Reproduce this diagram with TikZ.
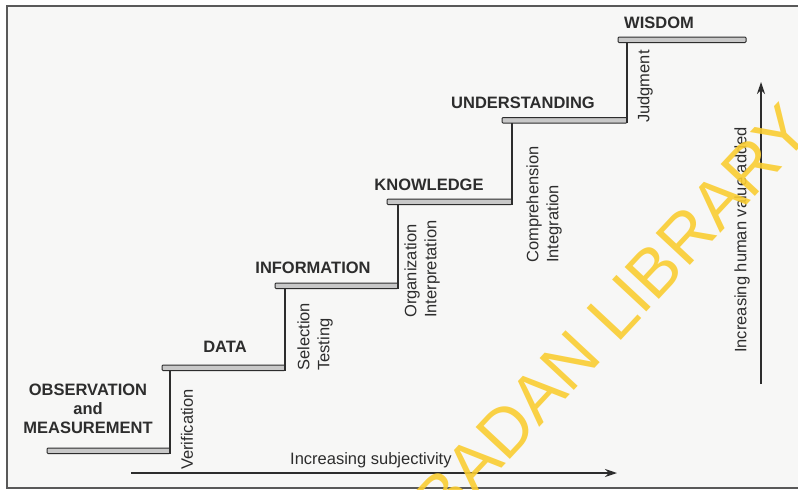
\documentclass[tikz,border=0pt]{standalone}
\usepackage{fontspec}
\setmainfont{Liberation Sans}
\usetikzlibrary{arrows.meta}
\definecolor{ink}{RGB}{45,45,45}
\definecolor{paper}{RGB}{247,247,246}
\definecolor{treadfill}{RGB}{200,200,200}
\definecolor{wm}{RGB}{250,205,50}
\begin{document}
\begin{tikzpicture}[x=1pt,y=-1pt,
  tread/.style={draw=ink, fill=treadfill, line width=1pt, rounded corners=1pt,
    minimum height=5.5pt, inner sep=0pt, outer sep=0pt, anchor=north west},
  riser/.style={draw=ink, line width=1.5pt},
  stage/.style={font=\fontsize{16.5}{19}\selectfont\bfseries, text=ink, inner sep=0pt, align=center},
  act/.style={font=\fontsize{16.5}{20}\selectfont, text=ink, inner sep=0pt, rotate=90,
    anchor=west, align=left},
  axisarrow/.style={draw=ink, line width=1.5pt, -{Stealth[length=12pt,width=8pt]}},
  frameline/.style={draw=black!65, line width=1.5pt}]

\useasboundingbox (0,0) rectangle (798,490);
\clip (0,0) rectangle (798,490);
\fill[white] (0,0) rectangle (798,490);
\fill[paper] (7,6) rectangle (798,488);
\draw[frameline] (798,6) -- (7,6) -- (7,488) -- (798,488);

% treads
\node[tread, minimum width=123pt] (t1) at (47,448) {};
\node[tread, minimum width=123pt] (t2) at (162,365) {};
\node[tread, minimum width=123pt] (t3) at (275,283) {};
\node[tread, minimum width=125pt] (t4) at (387,199) {};
\node[tread, minimum width=125pt] (t5) at (502,117.5) {};
\node[tread, minimum width=128pt] (t6) at (618,37) {};

% risers
\foreach \a/\b in {t1/t2,t2/t3,t3/t4,t4/t5,t5/t6}
  \draw[riser] (\a.south east) -- (\a.south east |- \b.south);

% stage labels
\node[stage] (obs) at (88,409) {OBSERVATION\\and\\MEASUREMENT};
\node[stage] (data) at (225,347) {DATA};
\node[stage] (info) at (313,268) {INFORMATION};
\node[stage] (know) at (429,185) {KNOWLEDGE};
\node[stage] (und) at (523,103) {UNDERSTANDING};
\node[stage] (wis) at (659,23) {WISDOM};

% activity labels
\node[act] (ver) at (187,470) {Verification};
\node[act] (sel) at (315,371) {Selection\\Testing};
\node[act] (org) at (422,318) {Organization\\Interpretation};
\node[act] (comp) at (544,263) {Comprehension\\Integration};
\node[act] (jud) at (645,123) {Judgment};
\node[act] (hum) at (742,353) {Increasing human value added};

% axes
\coordinate (hs) at (131,473);
\coordinate (he) at (617,473);
\draw[axisarrow] (hs) -- (he);
\node[font=\fontsize{16.5}{20}\selectfont, text=ink, inner sep=0pt, anchor=base west] (subj) at (290,464) {Increasing subjectivity};
\coordinate (vs) at (761,384);
\coordinate (ve) at (761,82);
\draw[axisarrow] (vs) -- (ve);

% watermark
\node[text=wm, font=\fontsize{68}{68}\selectfont, rotate=47, inner sep=0pt, opacity=0.9] (wmk) at (606,322) {IBADAN LIBRARY};
\end{tikzpicture}
\end{document}
